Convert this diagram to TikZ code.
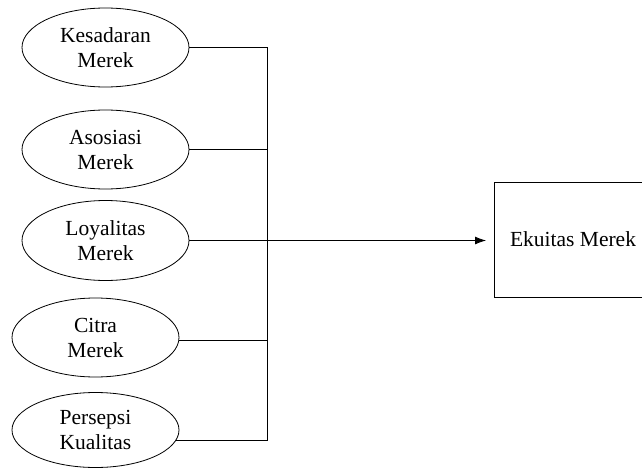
\documentclass[tikz,border=0pt]{standalone}
\usepackage{fontspec}
\setmainfont{Liberation Serif}
\usetikzlibrary{shapes.geometric, arrows.meta}
\tikzset{
  dimensi/.style={draw, ellipse, minimum width=167, minimum height=79, inner sep=0pt,
    align=center, font=\fontsize{21.5}{25}\selectfont},
  hasil/.style={draw, rectangle, minimum width=158, minimum height=115, inner sep=0pt,
    font=\fontsize{21.5}{25}\selectfont}
}
\begin{document}
\begin{tikzpicture}[x=1pt, y=-1pt, line width=.8pt]
    \useasboundingbox (0,0) rectangle (642,468);
    \node[dimensi] (kesadaran) at (105.5, 47.5) {Kesadaran\\Merek};
    \node[dimensi] (asosiasi) at (105.5, 149.5) {Asosiasi\\Merek};
    \node[dimensi, minimum height=80] (loyalitas) at (105.5, 240.5) {Loyalitas\\Merek};
    \node[dimensi] (citra) at (95.5, 337.5) {Citra\\Merek};
    \node[dimensi, minimum height=75] (persepsi) at (95.5, 430) {Persepsi\\Kualitas};
    \node[hasil] (ekuitas) at (573, 239.5) {Ekuitas Merek};
    \coordinate (atas) at (267, 48);
    \coordinate (ujung) at (486, 241);
    \draw (kesadaran.east) -- (kesadaran.east -| atas) -- (persepsi.-7 -| atas) -- (persepsi.-7);
    \draw (asosiasi.east) -- (asosiasi.east -| atas);
    \draw (citra.-2) -- (citra.-2 -| atas);
    \draw[-{Latex[length=11pt, width=8pt]}] (loyalitas.east) -- (loyalitas.east -| ujung);
\end{tikzpicture}
\end{document}
